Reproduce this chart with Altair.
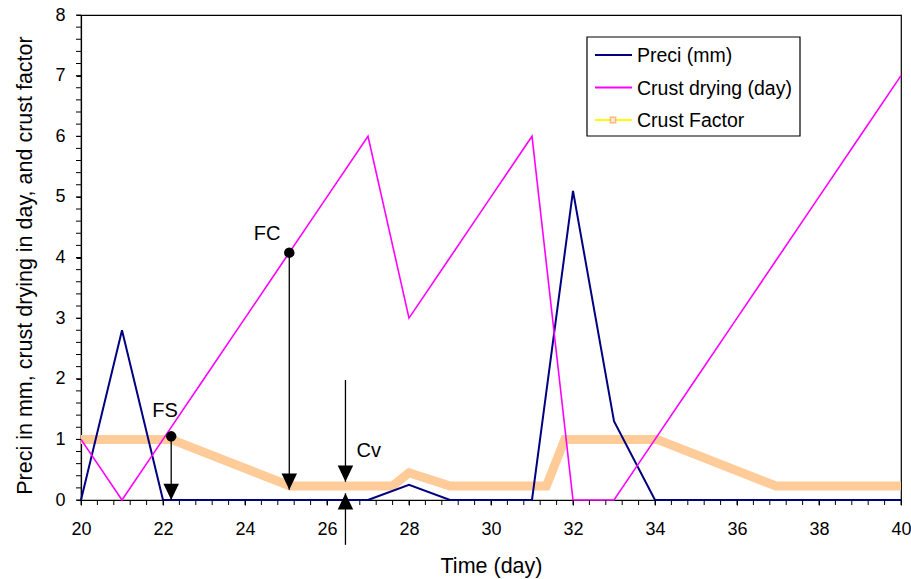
import altair as alt
import pandas as pd

# ---- series (daily values) ----
days = list(range(20, 41))
preci_mm = [0, 2.8, 0, 0, 0, 0, 0, 0, 0.25, 0, 0, 0, 5.1, 1.3, 0, 0, 0, 0, 0, 0, 0]
crust_drying = [1, 0, 1, 2, 3, 4, 5, 6, 3, 4, 5, 6, 0, 0, 1, 2, 3, 4, 5, 6, 7]

# crust factor, sampled at its break points
cf_days = [20, 22.2, 25.1, 27.6, 28.0, 29.0, 31.35, 31.8, 34.05, 36.95, 40]
cf_values = [1, 1, 0.23, 0.23, 0.45, 0.23, 0.23, 1, 1, 0.23, 0.23]

# annotation anchors
dot_x = [22.2, 25.08]
dot_y = [1.05, 4.08]
label_text = ["FS", "FC", "Cv"]
label_x = [22.05, 24.54, 27.02]
label_y = [1.47, 4.39, 0.81]
arrow_x = [22.2, 25.08, 26.45, 26.45]
arrow_from = [1.05, 4.08, 1.98, -0.74]
arrow_tip = [0.0, 0.17, 0.30, 0.11]
arrow_dir = ["down", "down", "down", "up"]

# axis ticks
x_major = list(range(20, 41, 2))
y_major = list(range(0, 9))
x_minor = [round(20 + 0.4 * i, 2) for i in range(51)]
y_minor = [round(0.2 * i, 2) for i in range(41)]

W, H = 820, 485
FONT = "Liberation Sans"
NAVY, MAGENTA, PEACH, YELLOW = "#000080", "#FF00FF", "#FFCC99", "#FFFF00"

xs = alt.Scale(domain=[20, 40], nice=False, zero=False)
ys = alt.Scale(domain=[0, 8], nice=False, zero=False)

df = pd.DataFrame({"day": days, "preci": preci_mm, "drying": crust_drying})
cf = pd.DataFrame({"day": cf_days, "cf": cf_values})

x_axis = alt.Axis(values=x_major, format="d", title="Time (day)", grid=False,
                  tickSize=5, labelPadding=15, labelFlush=False, titleY=72,
                  titleX=W / 2, titleBaseline="alphabetic")
y_axis = alt.Axis(values=y_major, format="d",
                  title="Preci in mm, crust drying in day, and crust factor",
                  grid=False, tickSize=5, labelPadding=11, labelFlush=False,
                  titleX=-50, titleY=250, titleBaseline="alphabetic")


def X(field):
    return alt.X(field, scale=xs, axis=x_axis)


def Y(field):
    return alt.Y(field, scale=ys, axis=y_axis)


factor_line = alt.Chart(cf).mark_line(color=PEACH, strokeWidth=9, strokeJoin="miter").encode(
    x=X("day:Q"), y=Y("cf:Q"))
preci_line = alt.Chart(df).mark_line(color=NAVY, strokeWidth=2).encode(
    x=X("day:Q"), y=Y("preci:Q"))
drying_line = alt.Chart(df).mark_line(color=MAGENTA, strokeWidth=1.6).encode(
    x=X("day:Q"), y=Y("drying:Q"))

# minor ticks along both axes
xm = alt.Chart(pd.DataFrame({"day": x_minor})).mark_rule(color="black", strokeWidth=1).encode(
    x=X("day:Q"), y=alt.value(H), y2=alt.value(H + 5))
ym = alt.Chart(pd.DataFrame({"v": y_minor})).mark_rule(color="black", strokeWidth=1).encode(
    y=Y("v:Q"), x=alt.value(-5), x2=alt.value(0))

# arrows
arr = pd.DataFrame({"x": arrow_x, "y0": arrow_from, "y1": arrow_tip, "dir": arrow_dir})
arrow_shafts = alt.Chart(arr).mark_rule(color="black", strokeWidth=1.3).encode(
    x=X("x:Q"), y=Y("y0:Q"), y2="y1:Q")
head_down = alt.Chart(arr[arr["dir"] == "down"]).mark_point(
    shape="M-1,-2.1L1,-2.1L0,0Z", filled=True, color="black", opacity=1, size=240
).encode(x=X("x:Q"), y=Y("y1:Q"))
head_up = alt.Chart(arr[arr["dir"] == "up"]).mark_point(
    shape="M-1,2.1L1,2.1L0,0Z", filled=True, color="black", opacity=1, size=240
).encode(x=X("x:Q"), y=Y("y1:Q"))

dots = alt.Chart(pd.DataFrame({"x": dot_x, "y": dot_y})).mark_circle(
    color="black", opacity=1, size=110
).encode(x=X("x:Q"), y=Y("y:Q"))

labels = alt.Chart(pd.DataFrame({"x": label_x, "y": label_y, "t": label_text})).mark_text(
    font=FONT, fontSize=20, color="black", align="center", baseline="middle"
).encode(x=X("x:Q"), y=Y("y:Q"), text="t:N")

# legend box
legend_names = ["Preci (mm)", "Crust drying (day)", "Crust Factor"]
legend_colors = [NAVY, MAGENTA, YELLOW]
LX0, LX1, LY0, LY1 = 506, 719, 22, 121
legend_layers = [
    alt.Chart(pd.DataFrame({"a": [0]})).mark_rect(fill="white", stroke="black", strokeWidth=1.2).encode(
        x=alt.value(LX0), x2=alt.value(LX1), y=alt.value(LY0), y2=alt.value(LY1))
]
for i, (name, col) in enumerate(zip(legend_names, legend_colors)):
    yy = 40 + 32.5 * i
    legend_layers.append(
        alt.Chart(pd.DataFrame({"a": [0]})).mark_rule(color=col, strokeWidth=2).encode(
            x=alt.value(514), x2=alt.value(551), y=alt.value(yy)))
    legend_layers.append(
        alt.Chart(pd.DataFrame({"t": [name]})).mark_text(
            font=FONT, fontSize=19.5, color="black", align="left", baseline="middle"
        ).encode(x=alt.value(556), y=alt.value(yy + 1), text="t:N"))
legend_layers.append(
    alt.Chart(pd.DataFrame({"a": [0]})).mark_point(
        shape="square", size=28, filled=True, fill="#FFE8D0", stroke="#F5B880",
        strokeWidth=1.5, opacity=1).encode(x=alt.value(532), y=alt.value(105)))

chart = alt.layer(
    factor_line, preci_line, drying_line, xm, ym,
    arrow_shafts, head_down, head_up, dots, labels, *legend_layers
).properties(
    width=W, height=H,
    padding={"left": 81, "top": 15, "right": 10, "bottom": 79},
    autosize=alt.AutoSizeParams(type="none"),
    background="white",
).configure(font=FONT).configure_view(
    stroke="black", strokeWidth=1.2
).configure_axis(
    labelFont=FONT, titleFont=FONT, labelFontSize=18, titleFontSize=21.5,
    titleFontWeight="normal", labelColor="black", titleColor="black",
    domainColor="black", tickColor="black", domainWidth=1.2, tickWidth=1,
)

chart.save("out.html", embed_options={"renderer": "svg", "actions": False})
